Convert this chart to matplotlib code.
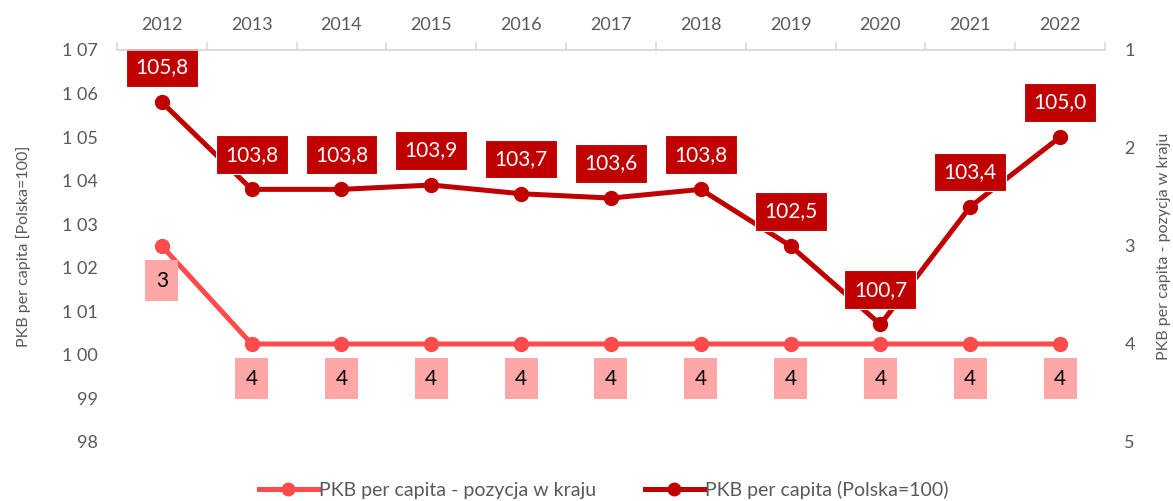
import matplotlib.pyplot as plt
from matplotlib.lines import Line2D

years = ['2012', '2013', '2014', '2015', '2016', '2017', '2018', '2019', '2020', '2021', '2022']
pkb_index = [105.8, 103.8, 103.8, 103.9, 103.7, 103.6, 103.8, 102.5, 100.7, 103.4, 105.0]
pkb_rank = [3, 4, 4, 4, 4, 4, 4, 4, 4, 4, 4]
left_ticks = [98, 99, 100, 101, 102, 103, 104, 105, 106, 107]
left_ticklabels = ['98', '99', '1 00', '1 01', '1 02', '1 03', '1 04', '1 05', '1 06', '1 07']
right_ticks = [1, 2, 3, 4, 5]

dark = '#C00000'
light = '#FF4B4B'
pink = '#FFA7A7'
grey = '#595959'

plt.rcParams['font.family'] = ['Lato', 'DejaVu Sans']

fig = plt.figure(figsize=(11.73, 5.01), dpi=100)
ax = fig.add_axes([0.0997, 0.1178, 0.8423, 0.7824])
ax2 = ax.twinx()

x = list(range(len(years)))

ax.plot(x, pkb_index, color=dark, lw=3.6, marker='o', ms=10, zorder=3)
ax.set_ylim(98, 107)
ax.set_xlim(-0.5, len(years) - 0.5)
ax.set_yticks(left_ticks)
ax.set_yticklabels(left_ticklabels)

ax2.plot(x, pkb_rank, color=light, lw=3.6, marker='o', ms=10, zorder=2)
ax2.set_ylim(5, 1)
ax2.set_yticks(right_ticks)

# x axis on top, ticks between categories
ax.xaxis.tick_top()
ax.set_xticks(x)
ax.set_xticklabels(years)
ax.set_xticks([i - 0.5 for i in range(len(years) + 1)], minor=True)
ax.tick_params(axis='x', which='major', length=0, pad=12, labelsize=13, colors=grey)
ax.tick_params(axis='x', which='minor', length=6, width=1.2, color='#D9D9D9')
ax.tick_params(axis='y', length=0, pad=14, labelsize=13, colors=grey)
ax2.tick_params(axis='y', length=0, pad=14, labelsize=13, colors=grey)

for a in (ax, ax2):
    for s in ['left', 'right', 'bottom']:
        a.spines[s].set_visible(False)
    a.spines['top'].set_color('#D9D9D9')
    a.spines['top'].set_linewidth(1.2)
ax2.tick_params(axis='x', length=0)

ax.set_ylabel('PKB per capita [Polska=100]', fontsize=11.5, color=grey, labelpad=22)
ax2.set_ylabel('PKB per capita - pozycja w kraju', fontsize=11.5, color=grey, labelpad=16)

for xi, v in zip(x, pkb_index):
    ax.annotate(f'{v:.1f}'.replace('.', ','), (xi, v), xytext=(0, 25), textcoords='offset points',
                ha='center', va='center', fontsize=15, color='white', zorder=5,
                bbox=dict(boxstyle='square,pad=0.45', fc=dark, ec='white', lw=0.8))

for xi, r in zip(x, pkb_rank):
    ax2.annotate(str(r), (xi, r), xytext=(0, -25), textcoords='offset points',
                 ha='center', va='center', fontsize=15, color='black', zorder=5,
                 bbox=dict(boxstyle='square,pad=0.5', fc=pink, ec='none'))

handles = [Line2D([], [], color=light, lw=3.6, marker='o', ms=9),
           Line2D([], [], color=dark, lw=3.6, marker='o', ms=9)]
fig.legend(handles, ['PKB per capita - pozycja w kraju', 'PKB per capita (Polska=100)'],
           loc='lower center', bbox_to_anchor=(0.515, -0.03), ncol=2, frameon=False,
           fontsize=14, labelcolor=grey, handlelength=3.0, handletextpad=0.1, columnspacing=2.5)

fig.savefig('out.png', dpi=100)
